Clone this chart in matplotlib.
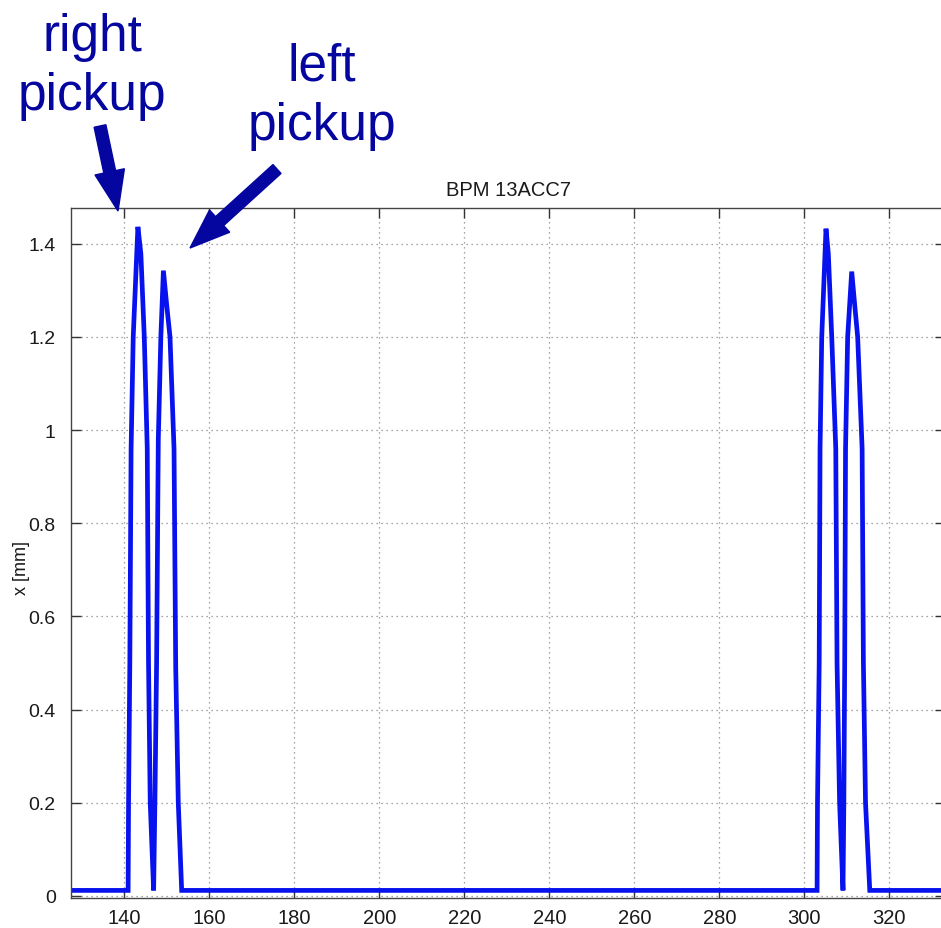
# BPM 13ACC7 horizontal position trace with pickup annotations

import matplotlib.pyplot as plt
from matplotlib.patches import FancyArrow

### Data ###

# Sample positions along the trace
pos = [127.5, 140.9, 141.0, 141.3, 141.6, 142.1, 143.2,
       143.9, 144.7, 145.4, 145.7, 146.1, 146.9,
       147.2, 147.6, 148.0, 148.6, 149.2,
       150.0, 150.75, 151.7, 152.1, 152.7, 153.5,
       303.0, 303.1, 303.5, 303.7, 304.1, 305.1,
       305.65, 306.45, 307.4, 307.7, 308.3, 309.1,
       309.3, 309.5, 309.7, 310.2, 311.15,
       311.9, 312.55, 313.6, 313.9, 314.4, 315.4, 333.5]

# Measured x [mm]
x_mm = [0.012, 0.012, 0.2, 0.5, 0.96, 1.2, 1.436,
        1.378, 1.2, 0.96, 0.5, 0.2, 0.012,
        0.2, 0.5, 0.98, 1.2, 1.342,
        1.266, 1.2, 0.96, 0.49, 0.2, 0.012,
        0.012, 0.2, 0.5, 0.96, 1.2, 1.432,
        1.378, 1.2, 0.96, 0.5, 0.2, 0.012,
        0.2, 0.5, 0.96, 1.2, 1.34,
        1.264, 1.2, 0.96, 0.5, 0.2, 0.012, 0.012]

xticks = [140, 160, 180, 200, 220, 240, 260, 280, 300, 320]
yticks = [0, 0.2, 0.4, 0.6, 0.8, 1.0, 1.2, 1.4]
ytick_labels = ['0', '0.2', '0.4', '0.6', '0.8', '1', '1.2', '1.4']

title = 'BPM 13ACC7'
ylabel = 'x [mm]'

W, H = 941, 929
navy = '#0505a0'

#########################

plt.rcParams['font.family'] = ['Liberation Sans', 'DejaVu Sans']

fig = plt.figure(figsize=(W / 100, H / 100), dpi=100)

# axes box in pixels: left 71, right 945 (runs off the edge), top 209, bottom 899
ax = fig.add_axes([71 / W, 1 - 899 / H, (945 - 71) / W, (899 - 209) / H])

ax.plot(pos, x_mm, color='#0812ee', linewidth=3.4, solid_joinstyle='miter')

ax.set_xlim(127.46, 333.1)
ax.set_ylim(-0.0043, 1.4764)
ax.set_xticks(xticks)
ax.set_yticks(yticks)
ax.set_yticklabels(ytick_labels)
ax.tick_params(direction='in', length=7, width=1, top=True, right=True,
               labelsize=14, colors='#333333', labelcolor='#1a1a1a')
ax.tick_params(axis='x', pad=7, labelsize=14.5)
ax.tick_params(axis='y', pad=11)
ax.grid(True, linestyle=(0, (1, 3)), color='#888888', linewidth=0.9)
for s in ax.spines.values():
    s.set_color('#444444')
    s.set_linewidth(1)

ax.set_title(title, fontsize=14.5, color='#1a1a1a', pad=9)
ax.set_ylabel(ylabel, fontsize=13, color='#1a1a1a')
ax.yaxis.set_label_coords(-0.047, 0.48)


# annotations drawn in pixel coordinates (origin top-left)
def fy(py):
    return 1 - py / H


fig.text(92 / W, fy(67), 'right\npickup', color=navy, fontsize=37,
         ha='center', va='center', linespacing=1.28)
fig.text(322 / W, fy(97), 'left\npickup', color=navy, fontsize=37,
         ha='center', va='center', linespacing=1.28)


def px_arrow(x0, y0, x1, y1):
    a = FancyArrow(x0 / 100, (H - y0) / 100, (x1 - x0) / 100, -(y1 - y0) / 100,
                   width=0.12, head_width=0.30, head_length=0.40,
                   length_includes_head=True, color=navy,
                   transform=fig.dpi_scale_trans)
    fig.add_artist(a)


px_arrow(100, 127, 118, 212)
px_arrow(277, 170, 190, 249)

fig.savefig('out.png', dpi=100)
